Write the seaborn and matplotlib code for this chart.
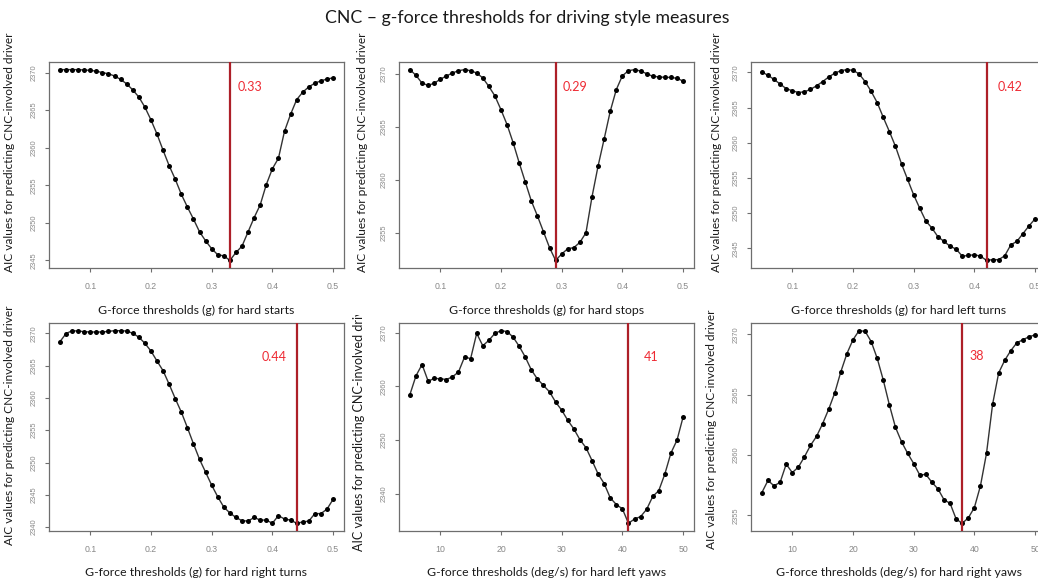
import numpy as np
import pandas as pd
import matplotlib
matplotlib.use('Agg')
import matplotlib.pyplot as plt
import seaborn as sns
from matplotlib.transforms import Bbox

# grelha de limiares
g_thresholds = np.round(np.arange(0.05, 0.505, 0.01), 2)
yaw_thresholds = np.arange(5, 51)

# valores de AIC
aic_hard_starts = [2370.4, 2370.4, 2370.4, 2370.4, 2370.35, 2370.3, 2370.2, 2370.0, 2369.85, 2369.55,
                   2369.1, 2368.5, 2367.7, 2366.75, 2365.4, 2363.7, 2361.8, 2359.65, 2357.6, 2355.8,
                   2353.8, 2352.1, 2350.5, 2348.8, 2347.6, 2346.55, 2345.75, 2345.6, 2345.0, 2346.05,
                   2346.9, 2348.8, 2350.7, 2352.4, 2355.1, 2357.2, 2358.6, 2362.2, 2364.45, 2366.4,
                   2367.4, 2368.1, 2368.6, 2368.9, 2369.15, 2369.3]
aic_hard_stops = [2370.38, 2369.84, 2369.1, 2368.9, 2369.1, 2369.47, 2369.78, 2370.06, 2370.28, 2370.38,
                  2370.28, 2370.06, 2369.6, 2368.8, 2367.9, 2366.6, 2365.2, 2363.5, 2361.6, 2359.8,
                  2358.0, 2356.6, 2355.1, 2353.6, 2352.4, 2353.0, 2353.5, 2353.6, 2354.1, 2355.0,
                  2358.4, 2361.3, 2363.85, 2366.45, 2368.5, 2369.8, 2370.28, 2370.38, 2370.25, 2370.0,
                  2369.75, 2369.7, 2369.65, 2369.65, 2369.56, 2369.3]
aic_left_turns = [2370.05, 2369.6, 2369.0, 2368.35, 2367.7, 2367.4, 2367.15, 2367.25, 2367.6, 2368.1,
                  2368.7, 2369.35, 2369.9, 2370.25, 2370.4, 2370.3, 2369.8, 2368.7, 2367.3, 2365.7,
                  2363.6, 2361.6, 2359.5, 2357.0, 2354.8, 2352.6, 2350.7, 2348.9, 2347.9, 2346.65,
                  2346.0, 2345.3, 2344.9, 2343.9, 2344.0, 2344.1, 2343.9, 2343.3, 2343.4, 2343.4,
                  2343.95, 2345.5, 2346.0, 2347.1, 2348.2, 2349.2]
aic_right_turns = [2368.7, 2369.95, 2370.4, 2370.35, 2370.25, 2370.2, 2370.2, 2370.2, 2370.3, 2370.4,
                   2370.4, 2370.35, 2370.0, 2369.4, 2368.45, 2367.25, 2365.7, 2364.2, 2362.1, 2359.9,
                   2357.8, 2355.4, 2352.9, 2350.5, 2348.5, 2346.5, 2344.7, 2343.1, 2342.2, 2341.5,
                   2341.0, 2340.95, 2341.5, 2341.1, 2341.1, 2340.6, 2341.8, 2341.25, 2341.1, 2340.6,
                   2340.8, 2340.95, 2342.1, 2342.1, 2342.8, 2344.3]
aic_left_yaws = [2358.5, 2362.0, 2364.1, 2361.0, 2361.5, 2361.45, 2361.3, 2361.8, 2362.7, 2365.5,
                 2365.2, 2369.9, 2367.6, 2368.6, 2369.9, 2370.4, 2370.25, 2369.2, 2367.5, 2365.5,
                 2363.1, 2361.4, 2360.2, 2359.0, 2357.1, 2355.6, 2353.7, 2352.1, 2350.1, 2348.6,
                 2346.2, 2343.7, 2341.9, 2339.25, 2338.0, 2337.2, 2334.5, 2335.3, 2335.75, 2337.1,
                 2339.5, 2340.6, 2343.7, 2347.6, 2350.0, 2354.3]
aic_right_yaws = [2356.9, 2357.9, 2357.45, 2357.75, 2359.25, 2358.55, 2359.0, 2359.85, 2360.8, 2361.55,
                  2362.6, 2363.8, 2365.15, 2366.9, 2368.4, 2369.55, 2370.3, 2370.25, 2369.4, 2368.0,
                  2366.2, 2364.15, 2362.3, 2361.1, 2360.15, 2359.3, 2358.35, 2358.4, 2357.75, 2357.2,
                  2356.3, 2356.0, 2354.7, 2354.35, 2354.8, 2355.65, 2357.45, 2360.15, 2364.2, 2366.8,
                  2367.85, 2368.65, 2369.3, 2369.55, 2369.8, 2369.95]

best_thresholds = [0.33, 0.29, 0.42, 0.44, 41, 38]
best_labels = ['0.33', '0.29', '0.42', '0.44', '41', '38']

x_labels = ['G-force thresholds (g) for hard starts',
            'G-force thresholds (g) for hard stops',
            'G-force thresholds (g) for hard left turns',
            'G-force thresholds (g) for hard right turns',
            'G-force thresholds (deg/s) for hard left yaws',
            'G-force thresholds (deg/s) for hard right yaws']
y_label = 'AIC values for predicting CNC-involved driver'

series = [aic_hard_starts, aic_hard_stops, aic_left_turns,
          aic_right_turns, aic_left_yaws, aic_right_yaws]
x_grids = [g_thresholds] * 4 + [yaw_thresholds] * 2
y_ticks = [np.arange(2345, 2371, 5), np.arange(2355, 2371, 5), np.arange(2345, 2371, 5),
           np.arange(2340, 2371, 5), np.arange(2340, 2371, 10), np.arange(2355, 2371, 5)]
x_ticks = [[0.1, 0.2, 0.3, 0.4, 0.5]] * 4 + [[10, 20, 30, 40, 50]] * 2

sns.set_style('ticks')
plt.rcParams['font.family'] = ['Lato', 'DejaVu Sans']

W, H = 1038, 578
fig = plt.figure(figsize=(W / 100, H / 100), dpi=100)
fig.patch.set_facecolor('white')

# posições dos painéis em pixels (esquerda, topo, largura, altura)
lefts = [49, 399, 751]
tops = [62, 323]
heights = [206, 208]
width = 295
xlab_y = [305, 567]

# deslocamento do rótulo vermelho em pixels e posição vertical
label_dx = [8, 7, 11, -10, 15, 7]
label_ha = ['left', 'left', 'left', 'right', 'left', 'left']
label_fy = [0.88, 0.88, 0.88, 0.835, 0.835, 0.84]
ylab_x = [15, 368, 722, 15, 365, 717]
ylab_yc = [152, 152, 152, 425, 425, 429]

red_line = '#ad1f28'
red_text = '#ee2a33'
grey = '#6e6e6e'

for i in range(6):
    row, col = divmod(i, 3)
    l, t, h = lefts[col], tops[row], heights[row]
    ax = fig.add_axes([l / W, 1 - (t + h) / H, width / W, h / H])
    df = pd.DataFrame({'x': x_grids[i], 'aic': series[i]})
    sns.lineplot(data=df, x='x', y='aic', ax=ax, color='#333333', linewidth=1.0,
                 marker='o', markersize=3.6, markerfacecolor='black',
                 markeredgecolor='black', markeredgewidth=0)
    ax.margins(x=0.04, y=0.04)
    ax.axvline(best_thresholds[i], color=red_line, linewidth=1.6, zorder=3)
    ax.annotate(best_labels[i], xy=(best_thresholds[i], label_fy[i]),
                xycoords=('data', 'axes fraction'), xytext=(label_dx[i], 0),
                textcoords='offset pixels', ha=label_ha[i], va='center',
                color=red_text, fontsize=9)

    ax.set_xticks(x_ticks[i])
    ax.set_yticks(y_ticks[i])
    ax.tick_params(axis='both', direction='out', length=3, width=0.8,
                   color=grey, labelcolor='#888888')
    ax.tick_params(axis='x', pad=7, labelsize=6.3)
    ax.tick_params(axis='y', pad=5, labelsize=5.4)
    for lab in ax.get_yticklabels():
        lab.set_rotation(90)
        lab.set_va('center')
        lab.set_family(['Liberation Sans', 'DejaVu Sans'])
    for lab in ax.get_xticklabels():
        lab.set_family(['Liberation Sans', 'DejaVu Sans'])
    for sp in ax.spines.values():
        sp.set_visible(True)
        sp.set_color(grey)
        sp.set_linewidth(0.9)

    ax.set_xlabel(x_labels[i], fontsize=8.8, color='#1a1a1a')
    ax.xaxis.set_label_coords(0.5, -(xlab_y[row] - (t + h)) / h)
    yl = ax.set_ylabel(y_label, fontsize=8.6 if i != 4 else 9, color='#1a1a1a')
    ax.yaxis.set_label_coords((ylab_x[i] - l) / width, (t + h - ylab_yc[i]) / h)
    if i == 4:
        # o rótulo do painel está cortado no topo no original
        yl.set_clip_box(Bbox([[340, 0], [395, H - 315]]))
        yl.set_clip_on(True)

fig.text(527 / W, 1 - 18 / H, 'CNC \u2013 g-force thresholds for driving style measures',
         ha='center', va='center', fontsize=12.8, color='#1a1a1a')

fig.savefig('out.png', dpi=100, facecolor='white')
